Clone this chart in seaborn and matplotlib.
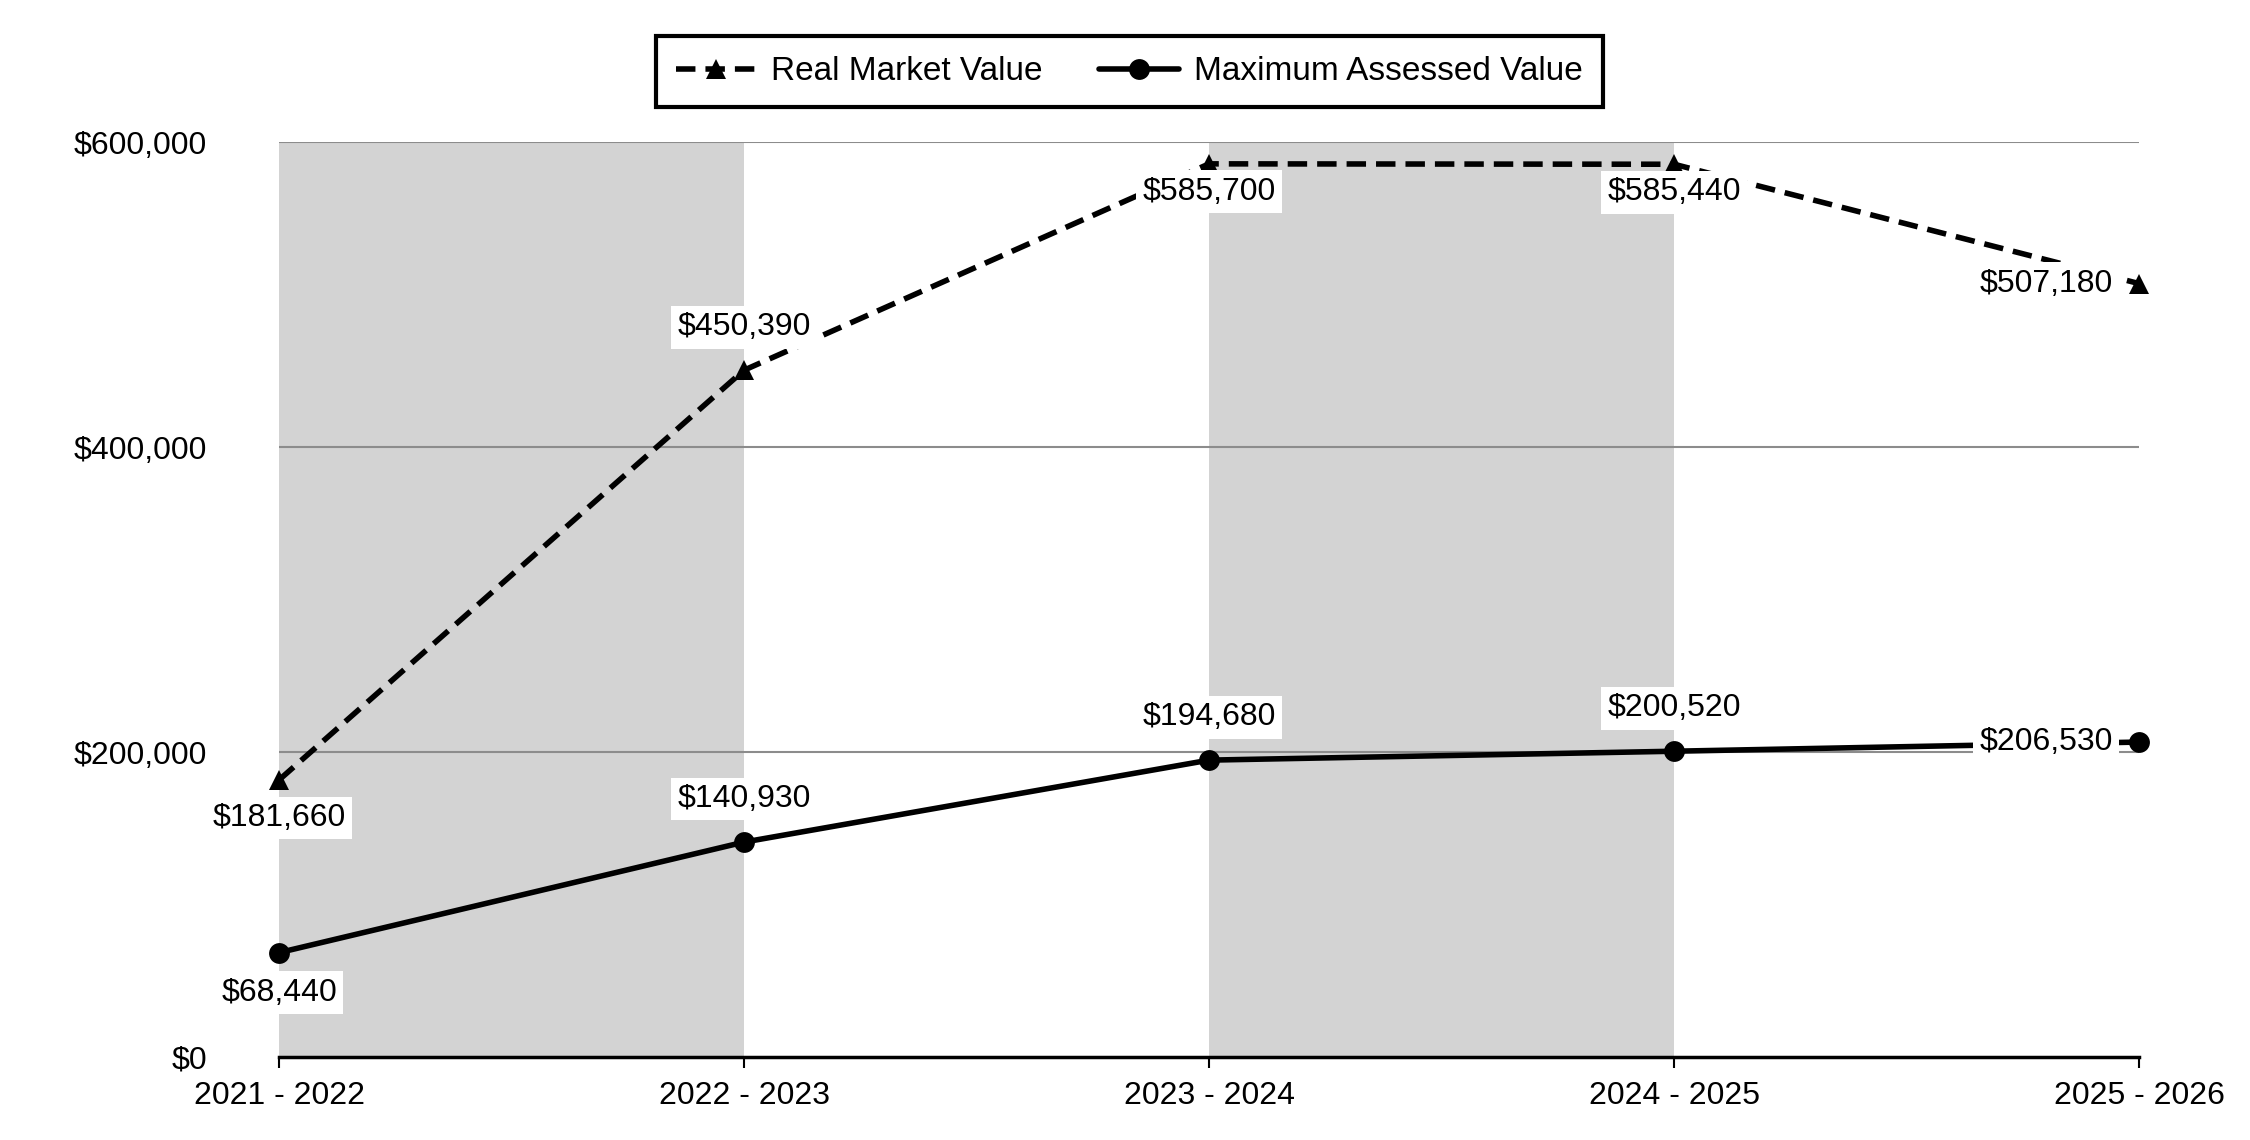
import matplotlib
matplotlib.use("Agg")
import matplotlib.pyplot as plt
import seaborn as sns
import pandas as pd
from matplotlib.ticker import FuncFormatter

years = ["2021 - 2022", "2022 - 2023", "2023 - 2024", "2024 - 2025", "2025 - 2026"]
real_market = [181660, 450390, 585700, 585440, 507180]
max_assessed = [68440, 140930, 194680, 200520, 206530]

# label placement per point: (dx, dy in pixels, ha)
rmv_offsets = [(0, -38, "center"), (0, 43, "center"), (0, -28, "center"),
               (0, -28, "center"), (-26, 0, "right")]
mav_offsets = [(0, -40, "center"), (0, 43, "center"), (0, 43, "center"),
               (0, 43, "center"), (-26, 0, "right")]

def main():
    sns.set_theme(style="white")
    plt.rcParams["font.family"] = ["Liberation Sans", "DejaVu Sans"]
    plt.rcParams["text.color"] = "black"
    plt.rcParams["xtick.color"] = "black"
    plt.rcParams["ytick.color"] = "black"

    df = pd.DataFrame({"pos": range(len(years)), "year": years,
                       "rmv": real_market, "mav": max_assessed})

    fig = plt.figure(figsize=(22.5, 11.4), dpi=100)
    ax = fig.add_axes([0.124, 0.0728, 0.8267, 0.8026])

    # shaded bands behind alternate year spans
    ax.axvspan(0, 1, color="#d3d3d3", lw=0, zorder=0)
    ax.axvspan(2, 3, color="#d3d3d3", lw=0, zorder=0)
    for y in [200000, 400000, 600000]:
        ax.axhline(y, color="#8c8c8c", lw=1.5, zorder=1)

    sns.lineplot(data=df, x="pos", y="rmv", ax=ax, color="black", lw=4,
                 marker="^", markersize=15, markeredgewidth=0,
                 label="Real Market Value", zorder=3, clip_on=False)
    ax.lines[-1].set_dashes([3.5, 1.8])
    sns.lineplot(data=df, x="pos", y="mav", ax=ax, color="black", lw=4,
                 marker="o", markersize=15, markeredgewidth=0,
                 label="Maximum Assessed Value", zorder=3, clip_on=False)

    for vals, offs in [(real_market, rmv_offsets), (max_assessed, mav_offsets)]:
        for i, (v, (dx, dy, ha)) in enumerate(zip(vals, offs)):
            ax.annotate(f"${v:,}", (i, v), xytext=(dx, dy), textcoords="offset pixels",
                        ha=ha, va="center", fontsize=23, zorder=4, color="black",
                        bbox=dict(boxstyle="square,pad=0.2", fc="white", ec="none"))

    ax.set_xlim(0, len(years) - 1)
    ax.set_ylim(0, 600000)
    ax.set_xticks(range(len(years)))
    ax.set_xticklabels(years)
    ax.set_yticks([0, 200000, 400000, 600000])
    ax.yaxis.set_major_formatter(FuncFormatter(lambda v, p: f"${int(v):,}"))
    ax.set_xlabel("")
    ax.set_ylabel("")
    ax.tick_params(axis="x", length=8, width=1.5, color="black", labelcolor="black",
                   pad=9, labelsize=23, bottom=True)
    ax.tick_params(axis="y", length=0, pad=52, labelsize=23, labelcolor="black")
    for s in ["left", "right", "top"]:
        ax.spines[s].set_visible(False)
    ax.spines["bottom"].set_color("black")
    ax.spines["bottom"].set_linewidth(2.5)
    ax.spines["bottom"].set_zorder(5)

    handles, labels = ax.get_legend_handles_labels()
    ax.get_legend().remove()
    leg = fig.legend(handles, labels, loc="center", bbox_to_anchor=(0.502, 0.937),
                     ncol=2, fontsize=24, frameon=True, fancybox=False, framealpha=1,
                     edgecolor="black", handlelength=2.4, handletextpad=0.45,
                     columnspacing=1.7, borderpad=0.6)
    leg.get_frame().set_linewidth(3)
    for t in leg.get_texts():
        t.set_color("black")

    fig.savefig("out.png", dpi=100, facecolor="white")

if __name__ == "__main__":
    main()
